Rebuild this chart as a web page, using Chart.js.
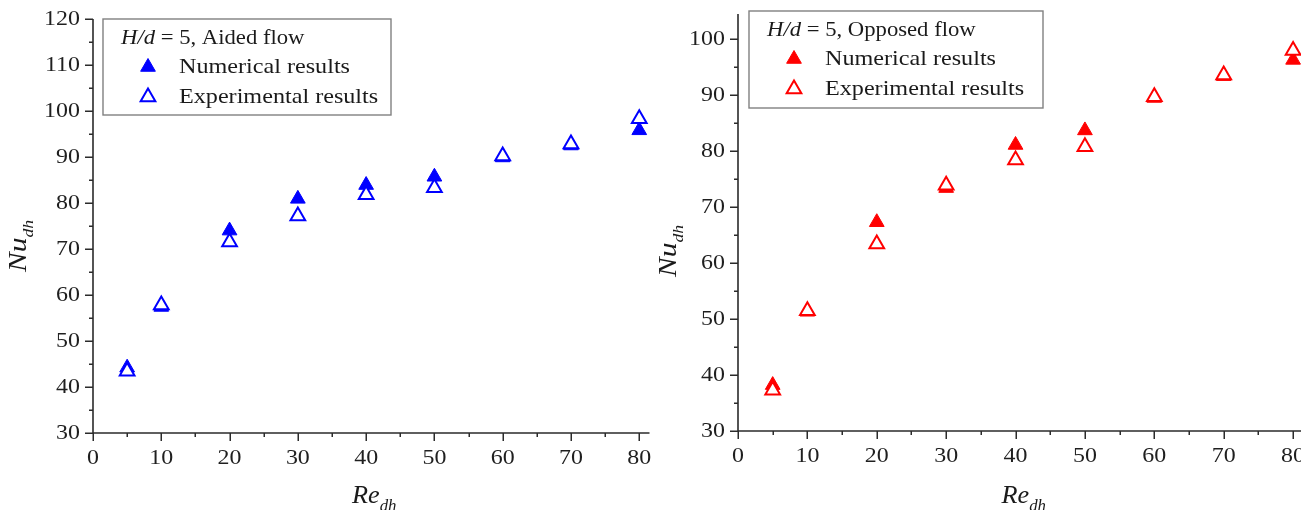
<!DOCTYPE html>
<html>
<head>
<meta charset="utf-8">
<script src="https://cdn.jsdelivr.net/npm/chart.js@4.4.0/dist/chart.umd.min.js"></script>
<style>
html,body{margin:0;padding:0;background:#fff;width:1301px;height:510px;overflow:hidden;position:relative}
#w1{position:absolute;left:0;top:0;width:660px;height:510px}
#w2{position:absolute;left:650px;top:0;width:664px;height:510px}
canvas{display:block}
</style>
</head>
<body>
<div id="w1"><canvas id="c1" width="660" height="510"></canvas></div>
<div id="w2"><canvas id="c2" width="664" height="510"></canvas></div>
<script>
// ---------- data ----------
const reX = [5, 10, 20, 30, 40, 50, 60, 70, 80];
const aidedNumerical     = [44.2, 57.4, 74.0, 80.9, 83.9, 85.7, 89.9, 92.5, 95.8];
const aidedExperimental  = [43.4, 57.8, 71.5, 77.2, 81.8, 83.3, 90.2, 92.8, 98.3];
const opposedNumerical    = [38.2, 51.3, 67.3, 73.4, 81.1, 83.7, 89.5, 93.4, 96.3];
const opposedExperimental = [37.3, 51.5, 63.4, 73.9, 78.4, 80.8, 89.7, 93.6, 98.0];
const xTickValues = [0, 10, 20, 30, 40, 50, 60, 70, 80];
const yTickValuesAided = [30, 40, 50, 60, 70, 80, 90, 100, 110, 120];
const yTickValuesOpposed = [30, 40, 50, 60, 70, 80, 90, 100];
const seriesNames = ['Numerical results', 'Experimental results'];
const headerItalic = 'H/d';
const headerAided = ' = 5, Aided flow';
const headerOpposed = ' = 5, Opposed flow';
const xTitle = ['Re', 'dh'];
const yTitle = ['Nu', 'dh'];

const SERIF = '"Liberation Serif", "Times New Roman", serif';

// horizontally stretched text (matches the wide serif look of the original)
function patchStretch(ctx, defSx) {
  const orig = ctx.fillText;
  ctx.__defSx = defSx;
  ctx.fillText = function (text, x, y, maxWidth) {
    const sx = (this.__sx !== undefined) ? this.__sx : this.__defSx;
    this.save();
    this.translate(x, y);
    this.scale(sx, 1);
    if (maxWidth !== undefined && maxWidth !== null) orig.call(this, text, 0, 0, maxWidth / sx);
    else orig.call(this, text, 0, 0);
    this.restore();
  };
}

function drawRun(ctx, parts, x, y, sx) {
  let cx = x;
  ctx.__sx = sx;
  for (const p of parts) {
    ctx.font = p.font;
    ctx.fillText(p.t, cx, y + (p.dy || 0));
    cx += ctx.measureText(p.t).width * sx;
  }
  ctx.__sx = undefined;
  return cx - x;
}
function runWidth(ctx, parts, sx) {
  let w = 0;
  for (const p of parts) { ctx.font = p.font; w += ctx.measureText(p.t).width * sx; }
  return w;
}

const decoPlugin = {
  id: 'deco',
  afterDraw(chart, args, o) {
    const ctx = chart.ctx, xs = chart.scales.x, ys = chart.scales.y, ca = chart.chartArea;
    ctx.save();
    // axis lines
    ctx.strokeStyle = '#2b2b2b';
    ctx.lineWidth = 1.6;
    ctx.beginPath();
    ctx.moveTo(ca.left, ca.top); ctx.lineTo(ca.left, ca.bottom + 0.8);
    ctx.moveTo(ca.left - 0.8, ca.bottom); ctx.lineTo(ca.right, ca.bottom);
    ctx.stroke();
    // tick marks (major + minor)
    ctx.lineWidth = 1.5;
    const tickList = (majors) => {
      const out = [];
      majors.forEach((v, i) => {
        out.push([v, 8]);
        if (i < majors.length - 1) out.push([(v + majors[i + 1]) / 2, 4]);
      });
      return out;
    };
    ctx.beginPath();
    tickList(o.xTicks).forEach(([v, len]) => {
      if (v < xs.min || v > xs.max) return;
      const p = Math.round(xs.getPixelForValue(v)) + 0.25;
      ctx.moveTo(p, ca.bottom); ctx.lineTo(p, ca.bottom + len);
    });
    tickList(o.yTicks).forEach(([v, len]) => {
      if (v < ys.min || v > ys.max) return;
      const p = Math.round(ys.getPixelForValue(v)) + 0.25;
      ctx.moveTo(ca.left, p); ctx.lineTo(ca.left - len, p);
    });
    ctx.stroke();

    // legend box
    const L = o.legend;
    ctx.strokeStyle = '#808080';
    ctx.lineWidth = 1.4;
    ctx.strokeRect(L.x, L.y, L.w, L.h);
    ctx.fillStyle = '#1a1a1a';
    ctx.textBaseline = 'middle';
    ctx.textAlign = 'left';
    drawRun(ctx, [
      { t: headerItalic, font: 'italic 21px ' + SERIF },
      { t: o.header, font: '21px ' + SERIF }
    ], L.x + 18, L.y + 19, 1.08);
    chart.data.datasets.forEach((ds, i) => {
      const my = L.y + 48 + i * 30;
      const mx = L.x + 45;
      ctx.fillStyle = ds.backgroundColor;
      ctx.strokeStyle = ds.borderColor;
      ctx.lineWidth = ds.borderWidth;
      Chart.helpers.drawPoint(ctx, { pointStyle: 'triangle', radius: 8.5, rotation: 0, borderWidth: ds.borderWidth }, mx, my);
      ctx.fillStyle = '#1a1a1a';
      drawRun(ctx, [{ t: ds.label, font: '21px ' + SERIF }], L.x + 76, my, 1.15);
    });

    // x title
    ctx.fillStyle = '#1a1a1a';
    ctx.textBaseline = 'alphabetic';
    const xParts = [
      { t: xTitle[0], font: 'italic 25px ' + SERIF },
      { t: xTitle[1], font: 'italic 16px ' + SERIF, dy: 8 }
    ];
    const xw = runWidth(ctx, xParts, 1.05);
    drawRun(ctx, xParts, (ca.left + ca.right) / 2 - xw / 2 + 3, o.xTitleY, 1.05);

    // y title (rotated)
    ctx.save();
    ctx.translate(o.yTitleX, o.yTitleY);
    ctx.rotate(-Math.PI / 2);
    drawRun(ctx, [
      { t: yTitle[0], font: 'italic 25px ' + SERIF },
      { t: yTitle[1], font: 'italic 15px ' + SERIF, dy: 7 }
    ], 0, 0, 1.18);
    ctx.restore();
    ctx.restore();
  }
};

function pts(xs, ys) { return xs.map((x, i) => ({ x: x, y: ys[i] })); }

function zeroPad(s) { s.paddingLeft = 0; s.paddingRight = 0; s.paddingTop = 0; s.paddingBottom = 0; }

function buildChart(id, opt) {
  const canvas = document.getElementById(id);
  const ctx = canvas.getContext('2d');
  patchStretch(ctx, 1.14);
  return new Chart(ctx, {
    type: 'scatter',
    data: {
      datasets: [
        { label: seriesNames[0], data: pts(reX, opt.num), pointStyle: 'triangle', pointRadius: 8.5, pointHoverRadius: 8.5,
          backgroundColor: opt.color, borderColor: opt.color, borderWidth: 1, order: 1, clip: false },
        { label: seriesNames[1], data: pts(reX, opt.exp), pointStyle: 'triangle', pointRadius: 8.5, pointHoverRadius: 8.5,
          backgroundColor: '#ffffff', borderColor: opt.color, borderWidth: 2, order: 0, clip: false }
      ]
    },
    options: {
      responsive: false,
      animation: false,
      events: [],
      layout: { padding: { left: 0, top: opt.top, right: opt.right, bottom: 0 } },
      plugins: {
        legend: { display: false },
        tooltip: { enabled: false },
        deco: {
          xTicks: xTickValues, yTicks: opt.yTicks, legend: opt.legend, header: opt.header,
          xTitleY: opt.xTitleY, yTitleX: opt.yTitleX, yTitleY: opt.yTitleY
        }
      },
      scales: {
        x: {
          type: 'linear', min: 0, max: 81.5,
          afterBuildTicks: s => { s.ticks = xTickValues.map(v => ({ value: v })); },
          afterFit: s => { s.height = opt.xh; zeroPad(s); },
          grid: { display: false, drawTicks: false },
          border: { display: false },
          ticks: { padding: 13, font: { family: SERIF, size: 21 }, color: '#1f1f1f', maxRotation: 0, autoSkip: false }
        },
        y: {
          type: 'linear', min: 30, max: opt.ymax,
          afterBuildTicks: s => { s.ticks = opt.yTicks.map(v => ({ value: v })); },
          afterFit: s => { s.width = opt.yw; zeroPad(s); },
          grid: { display: false, drawTicks: false },
          border: { display: false },
          ticks: { padding: 13, font: { family: SERIF, size: 21 }, color: '#1f1f1f', autoSkip: false }
        }
      }
    },
    plugins: [decoPlugin]
  });
}

buildChart('c1', {
  num: aidedNumerical, exp: aidedExperimental, color: '#0000ff',
  yTicks: yTickValuesAided, ymax: 120, top: 19, right: 10, yw: 93, xh: 77,
  legend: { x: 103, y: 19, w: 288, h: 96 }, header: headerAided,
  xTitleY: 503, yTitleX: 26, yTitleY: 272
});
buildChart('c2', {
  num: opposedNumerical, exp: opposedExperimental, color: '#ff0000',
  yTicks: yTickValuesOpposed, ymax: 104.5, top: 14, right: 10, yw: 88, xh: 79,
  legend: { x: 99, y: 11, w: 294, h: 97 }, header: headerOpposed,
  xTitleY: 503, yTitleX: 26, yTitleY: 277
});
</script>
</body>
</html>
